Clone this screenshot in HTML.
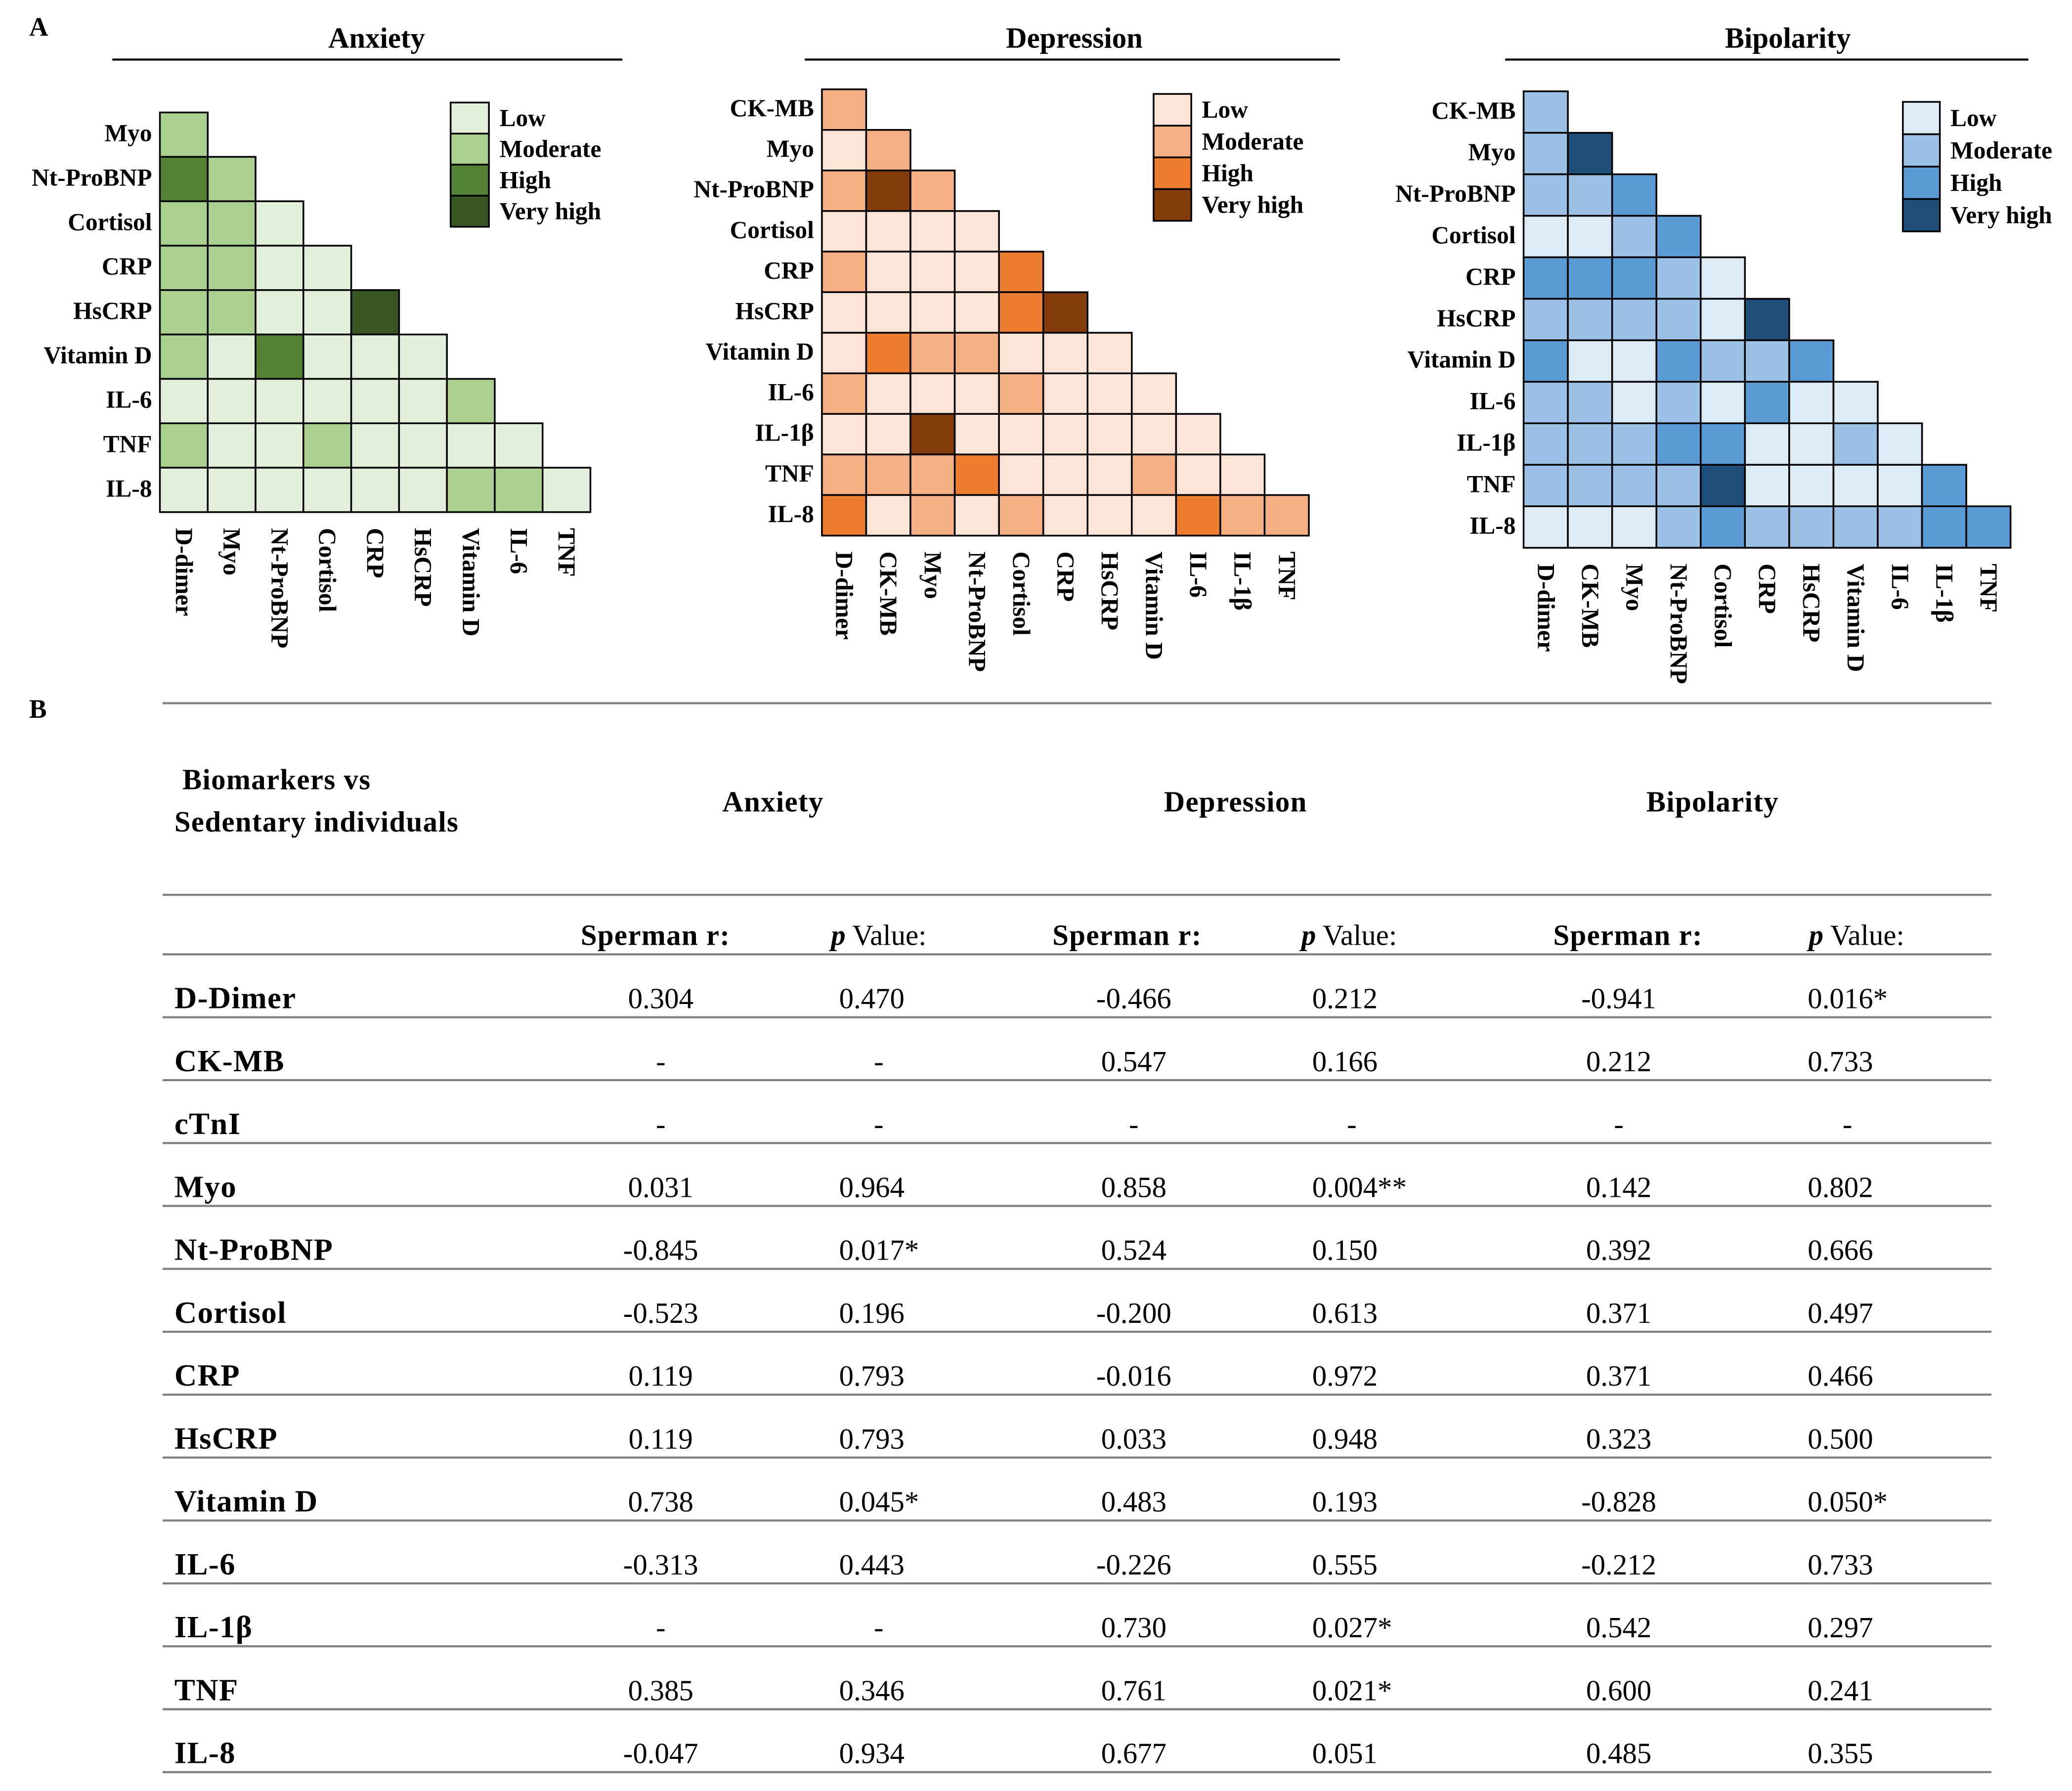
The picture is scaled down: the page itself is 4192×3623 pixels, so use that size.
<!DOCTYPE html>
<html><head><meta charset="utf-8"><style>
html,body{margin:0;padding:0;background:#fff;}
svg{display:block;font-family:"Liberation Serif",serif;}
</style></head><body>
<svg id="fig" width="4192" height="3623" viewBox="0 0 1568 1355" xmlns="http://www.w3.org/2000/svg">
<rect width="1568" height="1355" fill="#fff"/>
<g id="hm"></g>
<g id="tb"></g>
</svg>
<script>
const NS="http://www.w3.org/2000/svg";
const levelNames=["Low","Moderate","High","Very high"];
const anxRows=["Myo","Nt-ProBNP","Cortisol","CRP","HsCRP","Vitamin D","IL-6","TNF","IL-8"];
const anxCols=["D-dimer","Myo","Nt-ProBNP","Cortisol","CRP","HsCRP","Vitamin D","IL-6","TNF"];
const anxLevels=[[1],[2,1],[1,1,0],[1,1,0,0],[1,1,0,0,3],[1,0,2,0,0,0],[0,0,0,0,0,0,1],[1,0,0,1,0,0,0,0],[0,0,0,0,0,0,1,1,0]];
const depRows=["CK-MB","Myo","Nt-ProBNP","Cortisol","CRP","HsCRP","Vitamin D","IL-6","IL-1β","TNF","IL-8"];
const depCols=["D-dimer","CK-MB","Myo","Nt-ProBNP","Cortisol","CRP","HsCRP","Vitamin D","IL-6","IL-1β","TNF"];
const depLevels=[[1],[0,1],[1,3,1],[0,0,0,0],[1,0,0,0,2],[0,0,0,0,2,3],[0,2,1,1,0,0,0],[1,0,0,0,1,0,0,0],[0,0,3,0,0,0,0,0,0],[1,1,1,2,0,0,0,1,0,0],[2,0,1,0,1,0,0,0,2,1,1]];
const bipRows=depRows;
const bipCols=depCols;
const bipLevels=[[1],[1,3],[1,1,2],[0,0,1,2],[2,2,2,1,0],[1,1,1,1,0,3],[2,0,0,2,1,1,2],[1,1,0,1,0,2,0,0],[1,1,1,2,2,0,0,1,0],[1,1,1,1,3,0,0,0,0,2],[0,0,0,1,2,1,1,1,1,2,2]];

function el(tag,attrs,parent,txt){const e=document.createElementNS(NS,tag);for(const k in attrs)e.setAttribute(k,attrs[k]);if(txt!==undefined)e.textContent=txt;parent.appendChild(e);return e;}

const panels=[
 {key:"anxiety",title:"Anxiety",rows:anxRows,cols:anxCols,lv:anxLevels,x0:121,y0:85,cw:36.2,rh:33.6,tx:285,ln:[85,471],lg:[341,77.5,29,23.5],pal:["#e2efda","#a9d08e","#548235","#375623"]},
 {key:"depression",title:"Depression",rows:depRows,cols:depCols,lv:depLevels,x0:622,y0:67.5,cw:33.5,rh:30.7,tx:813,ln:[609,1014],lg:[873,71,28.5,24],pal:["#fce4d6","#f4b084","#ed7d31","#843c0c"]},
 {key:"bipolarity",title:"Bipolarity",rows:bipRows,cols:bipCols,lv:bipLevels,x0:1153,y0:69,cw:33.5,rh:31.4,tx:1353,ln:[1139,1535],lg:[1440,77,28,24.5],pal:["#ddebf7","#9bc2e6","#5b9bd5","#1f4e78"]}
];
const hm=document.getElementById("hm");
let t=el("text",{x:22,y:27,"font-size":20,"font-weight":"bold"},hm,"A");


panels.forEach(p=>{
 const g=el("g",{},hm);
 
 
 const tt=el("text",{x:p.tx,y:36,"font-size":22,"font-weight":"bold","text-anchor":"middle"},g,p.title);
 
 
 const ln=el("line",{x1:p.ln[0],x2:p.ln[1],y1:45,y2:45,stroke:"#000","stroke-width":1.6},g);
 
 
 const xs=i=>p.x0+i*p.cw, ys=j=>p.y0+j*p.rh;
 p.lv.forEach((row,j)=>{
  row.forEach((v,i)=>{
   const r=el("rect",{x:xs(i),y:ys(j),width:p.cw,height:p.rh,fill:p.pal[v],stroke:"#000","stroke-width":1.3},g);
   
   
  });
 });
 p.rows.forEach((lab,j)=>{
  const tl=el("text",{x:p.x0-6,y:ys(j)+p.rh/2+5,"font-size":18.5,"font-weight":"bold","text-anchor":"end"},g,lab);
  
  
 });
 const yb=ys(p.rows.length)+12;
 p.cols.forEach((lab,i)=>{
  const cx=xs(i)+p.cw/2-6;
  const tl=el("text",{x:cx,y:yb,"font-size":18.5,"font-weight":"bold",transform:`rotate(90 ${cx} ${yb})`},g,lab);
  
  
 });
 const [lx,ly,lw,lh]=p.lg;
 levelNames.forEach((n,k)=>{
  const r=el("rect",{x:lx,y:ly+k*lh,width:lw,height:lh,fill:p.pal[k],stroke:"#000","stroke-width":1.3},g);
  
  
  const tl=el("text",{x:lx+lw+8,y:ly+k*lh+lh/2+6,"font-size":18.5,"font-weight":"bold"},g,n);
  
  
 });
});

// Table
const tbRows=["D-Dimer","CK-MB","cTnI","Myo","Nt-ProBNP","Cortisol","CRP","HsCRP","Vitamin D","IL-6","IL-1β","TNF","IL-8"];
const anxR=["0.304","-","-","0.031","-0.845","-0.523","0.119","0.119","0.738","-0.313","-","0.385","-0.047"];
const anxP=["0.470","-","-","0.964","0.017*","0.196","0.793","0.793","0.045*","0.443","-","0.346","0.934"];
const depR=["-0.466","0.547","-","0.858","0.524","-0.200","-0.016","0.033","0.483","-0.226","0.730","0.761","0.677"];
const depP=["0.212","0.166","-","0.004**","0.150","0.613","0.972","0.948","0.193","0.555","0.027*","0.021*","0.051"];
const bipR=["-0.941","0.212","-","0.142","0.392","0.371","0.371","0.323","-0.828","-0.212","0.542","0.600","0.485"];
const bipP=["0.016*","0.733","-","0.802","0.666","0.497","0.466","0.500","0.050*","0.733","0.297","0.241","0.355"];
const tb=document.getElementById("tb");
t=el("text",{x:22,y:543,"font-size":20,"font-weight":"bold"},tb,"B");


function hl(y,nm){const l=el("line",{x1:123,x2:1507,y1:y,y2:y,stroke:"#808080","stroke-width":1.6},tb);
 
 }
hl(532,'table-top-rule');hl(677,'table-header-rule');hl(722,'table-subheader-rule');
const rowTop=722,rowH=47.6;
function tx(x,y,s,opts,nm){const e=el("text",Object.assign({x:x,y:y,"font-size":22},opts||{}),tb,s);
 
 return e;}
tx(138,597,"Biomarkers vs",{"font-weight":"bold","letter-spacing":"0.5"},'table-corner-header');
tx(132,629,"Sedentary individuals",{"font-weight":"bold","letter-spacing":"0.5"},'table-corner-header');
tx(585,614,"Anxiety",{"font-weight":"bold","text-anchor":"middle","letter-spacing":"0.5"},'anxiety-group-header');
tx(935,614,"Depression",{"font-weight":"bold","text-anchor":"middle","letter-spacing":"0.5"},'depression-group-header');
tx(1296,614,"Bipolarity",{"font-weight":"bold","text-anchor":"middle","letter-spacing":"0.5"},'bipolarity-group-header');
const rCols=[496,853,1232], pCols=[665,1021,1405];
rCols.forEach(x=>tx(x,715,"Sperman r:",{"font-weight":"bold","text-anchor":"middle","letter-spacing":"0.5"},'spearman-header'));
pCols.forEach(x=>{const e=tx(x,715,"",{"font-weight":"bold","text-anchor":"middle"},'p-value-header');
 const a=document.createElementNS(NS,"tspan");a.setAttribute("font-style","italic");a.textContent="p";e.appendChild(a);
 const b=document.createElementNS(NS,"tspan");b.setAttribute("font-weight","normal");b.textContent=" Value:";e.appendChild(b);});
const series=[[anxR,500,"middle"],[anxP,635,"start"],[depR,858,"middle"],[depP,993,"start"],[bipR,1225,"middle"],[bipP,1368,"start"]];
tbRows.forEach((name,j)=>{
 const y=rowTop+j*rowH+rowH/2+17;
 tx(132,y,name,{"font-weight":"bold","letter-spacing":"0.5","font-size":23.5},'row-label');
 series.forEach(([arr,x,anc])=>{
  const v=arr[j];
  if(v==="-") tx(x+(anc==="start"?30:0),y,"-",{"text-anchor":"middle"},'cell-value');
  else tx(x,y,v,{"text-anchor":anc},'cell-value');
 });
 hl(rowTop+(j+1)*rowH,'row-rule');
});
</script>
</body></html>
